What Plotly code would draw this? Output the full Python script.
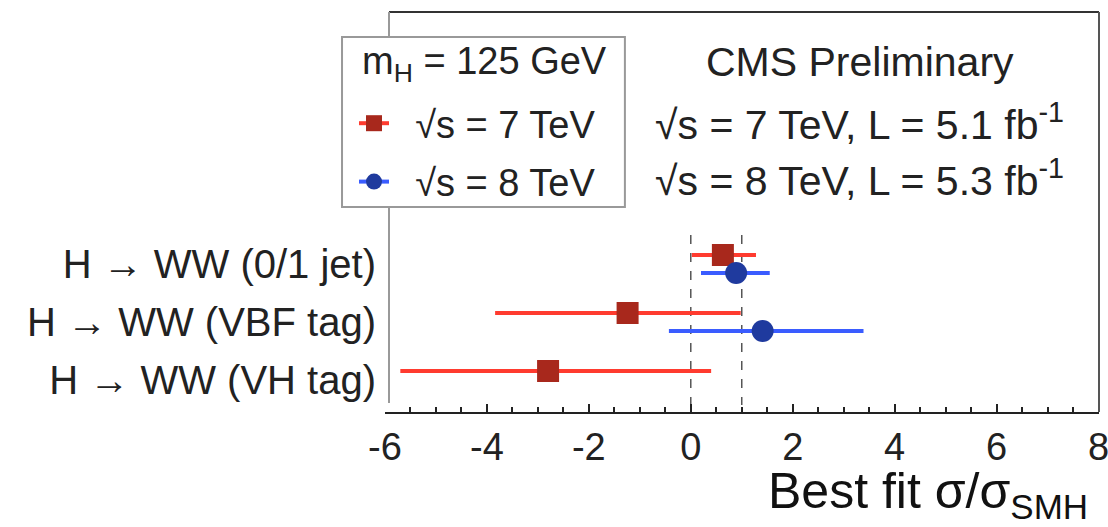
import plotly.graph_objects as go

categories = ["H → WW (0/1 jet)", "H → WW (VBF tag)", "H → WW (VH tag)"]
row_pos = [0, 1, 2]

# sqrt(s) = 7 TeV
mu7 = [0.63, -1.24, -2.80]
up7 = [1.24, 0.94, 0.36]
lo7 = [0.06, -3.80, -5.66]

# sqrt(s) = 8 TeV (no VH tag result)
mu8 = [0.89, 1.41]
up8 = [1.51, 3.35]
lo8 = [0.24, -0.39]
rows8 = [0, 1]

x_tickvals = [-6, -4, -2, 0, 2, 4, 6, 8]
sm_lines = [0, 1]

FONT = "Liberation Sans, Arial, Helvetica, sans-serif"
TXT = "#222222"
RED_BAR = "#ff3b2f"
RED_MK = "#a8281c"
BLUE_BAR = "#3a5cff"
BLUE_MK = "#1f3a9e"
OFF = 0.155
NB = "\u00a0"

fig = go.Figure()

fig.add_trace(go.Scatter(
    x=mu7, y=[r - OFF for r in row_pos], mode="markers",
    marker=dict(symbol="square", size=22, color=RED_MK),
    error_x=dict(type="data", symmetric=False,
                 array=[u - m for u, m in zip(up7, mu7)],
                 arrayminus=[m - l for m, l in zip(mu7, lo7)],
                 color=RED_BAR, thickness=4, width=2),
    showlegend=False, hoverinfo="skip"))

fig.add_trace(go.Scatter(
    x=mu8, y=[r + OFF for r in rows8], mode="markers",
    marker=dict(symbol="circle", size=22, color=BLUE_MK),
    error_x=dict(type="data", symmetric=False,
                 array=[u - m for u, m in zip(up8, mu8)],
                 arrayminus=[m - l for m, l in zip(mu8, lo8)],
                 color=BLUE_BAR, thickness=4, width=2),
    showlegend=False, hoverinfo="skip"))

# legend entries
fig.add_trace(go.Scatter(x=[None], y=[None], mode="lines+markers",
                         name=NB * 2 + "√s = 7 TeV", legendgroup="a",
                         line=dict(color=RED_BAR, width=4),
                         marker=dict(symbol="square", size=16, color=RED_MK)))
fig.add_trace(go.Scatter(x=[None], y=[None], mode="lines+markers",
                         name=NB * 2 + "√s = 8 TeV", legendgroup="b",
                         line=dict(color=BLUE_BAR, width=4),
                         marker=dict(symbol="circle", size=16, color=BLUE_MK)))

shapes = []
for v in sm_lines:
    shapes.append(dict(type="line", xref="x", yref="y", x0=v, x1=v, y0=-0.5, y1=2.43,
                       line=dict(color="#555555", width=1.5, dash="dash"), layer="below"))
# frame
shapes.append(dict(type="line", xref="paper", yref="paper", x0=0.0056, x1=1.0, y0=1, y1=1,
                   line=dict(color="#333333", width=2)))
shapes.append(dict(type="line", xref="paper", yref="paper", x0=1.0, x1=1.0, y0=0, y1=1,
                   line=dict(color="#555555", width=2)))
shapes.append(dict(type="line", xref="paper", yref="paper", x0=0.0056, x1=0.0056, y0=0.0225, y1=1,
                   line=dict(color="#999999", width=2)))
# legend box
shapes.append(dict(type="rect", xref="paper", yref="paper", x0=-0.0602, x1=0.336, y0=0.5125, y1=0.9375,
                   line=dict(color="#999999", width=2), fillcolor="white", layer="above"))

annotations = [
    dict(text="m<sub>H</sub> = 125 GeV", xref="paper", yref="paper", x=-0.035, y=0.87,
         xanchor="left", yanchor="middle",
         showarrow=False, font=dict(size=38, color=TXT, family=FONT)),
    dict(text="CMS Preliminary", xref="paper", yref="paper", x=0.665, y=0.875,
         xanchor="center", yanchor="middle",
         showarrow=False, font=dict(size=41, color=TXT, family=FONT)),
    dict(text="√s = 7 TeV, L = 5.1 fb<sup>-1</sup>", xref="paper", yref="paper", x=0.665, y=0.725,
         xanchor="center", yanchor="middle",
         showarrow=False, font=dict(size=41, color=TXT, family=FONT)),
    dict(text="√s = 8 TeV, L = 5.3 fb<sup>-1</sup>", xref="paper", yref="paper", x=0.665, y=0.585,
         xanchor="center", yanchor="middle",
         showarrow=False, font=dict(size=41, color=TXT, family=FONT)),
    dict(text="Best fit σ/σ<sub>SMH</sub>", xref="paper", yref="paper", x=0.987, y=0,
         xanchor="right", yanchor="top", yshift=-49,
         showarrow=False, font=dict(size=50, color="#111111", family=FONT)),
]

fig.update_layout(
    width=1108, height=527,
    margin=dict(l=385, r=9, t=12, b=115),
    plot_bgcolor="white", paper_bgcolor="white",
    font=dict(family=FONT, color=TXT),
    shapes=shapes, annotations=annotations,
    legend=dict(x=-0.0434, y=0.80, xanchor="left", yanchor="top",
                bgcolor="rgba(0,0,0,0)", borderwidth=0,
                font=dict(size=38, color=TXT, family=FONT),
                tracegroupgap=6),
    xaxis=dict(range=[-6, 8.01], tickvals=x_tickvals, ticktext=[str(v) for v in x_tickvals],
               ticks="inside", ticklen=8, tickwidth=1.5, tickcolor="#222",
               showline=True, linecolor="#222", linewidth=2, mirror=False,
               showgrid=False, zeroline=False, ticklabeloverflow="allow", automargin=False,
               minor=dict(dtick=0.5, ticks="inside", ticklen=5, tickcolor="#222", tickwidth=1.5),
               tickfont=dict(size=38, color=TXT, family=FONT)),
    yaxis=dict(range=[2.552, -4.345], tickvals=row_pos, ticktext=categories,
               showline=False, showgrid=False, zeroline=False, ticks="",
               ticklabelstandoff=8, automargin=False,
               tickfont=dict(size=40, color=TXT, family=FONT)),
)

fig.write_html("out.html")
